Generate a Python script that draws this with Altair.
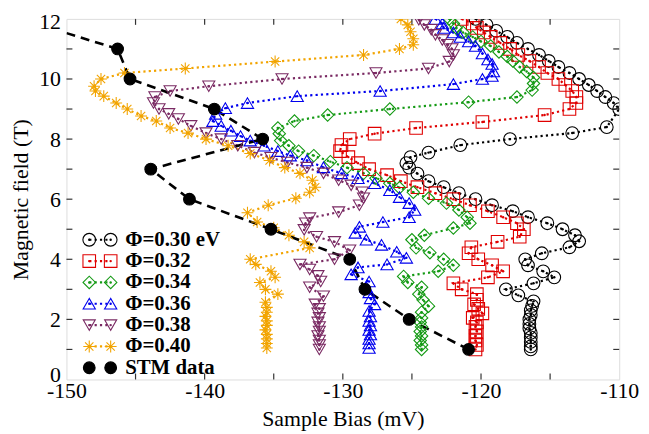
import altair as alt
import pandas as pd

# ---------------- data ----------------
series_names = ["Φ=0.30 eV", "Φ=0.32", "Φ=0.34", "Φ=0.36", "Φ=0.38", "Φ=0.40", "STM data"]
series_colors = ["#000000", "#e00000", "#149a14", "#0000ee", "#7a2a63", "#f2a400", "#000000"]

phi030_field = [12.0, 11.8, 11.6, 11.4, 11.2, 11.0, 10.8, 10.6, 10.4, 10.2, 10.0, 9.8, 9.6, 9.4, 9.2, 9.0,
                8.4, 8.2, 8.0, 7.8, 7.55, 7.4, 7.2, 7.05,
                6.85, 6.6, 6.4, 6.2, 6.0, 5.8, 5.6, 5.4, 5.2, 5.0, 4.8, 4.6,
                4.4, 4.2, 4.0, 3.8, 3.6, 3.4, 3.2, 3.0, 2.8,
                2.6, 2.45, 2.3, 2.15, 2.0, 1.85, 1.7, 1.55, 1.4, 1.25, 1.1, 1.0]
phi030_bias = [-120.4, -119.6, -118.9, -118.1, -117.4, -116.6, -115.8, -115.1, -114.4, -113.6, -112.9, -112.2, -111.6, -111.0, -110.4, -110.0,
               -110.9, -113.4, -117.9, -121.5, -123.8, -125.1, -125.4, -125.2,
               -124.6, -123.8, -122.7, -121.6, -120.4, -119.2, -117.7, -116.6, -115.2, -114.1, -113.2, -112.9,
               -113.6, -115.6, -116.8, -116.6, -115.5, -114.7, -116.2, -118.2, -117.3,
               -116.2, -116.3, -116.4, -116.4, -116.5, -116.5, -116.5, -116.4, -116.4, -116.4, -116.4, -116.4]

phi032_field = [12.0, 11.85, 11.7, 11.55, 11.4, 11.2, 11.0, 10.8, 10.6, 10.4, 10.2, 10.0, 9.8, 9.6, 9.4, 9.2, 9.0,
                8.8, 8.57, 8.37, 8.18, 8.0, 7.8, 7.6, 7.4,
                7.2, 7.0, 6.8, 6.6, 6.4, 6.2, 6.0, 5.8, 5.6, 5.4, 5.2, 5.0, 4.75,
                4.58, 4.4, 4.2, 4.0, 3.8, 3.6, 3.4, 3.2, 3.0,
                2.84, 2.65, 2.5, 2.35, 2.2, 2.05, 1.9, 1.75, 1.6, 1.45, 1.3, 1.15, 1.0]
phi032_bias = [-121.4, -120.6, -120.3, -119.8, -119.3, -118.6, -117.9, -117.3, -116.5, -115.8, -115.2, -114.4, -113.9, -113.4, -113.1, -113.1, -113.6,
               -115.4, -119.9, -124.7, -127.7, -129.5, -130.1, -130.2, -129.6,
               -128.9, -128.1, -126.8, -125.8, -124.6, -123.3, -122.0, -120.8, -119.5, -118.4, -117.4, -116.9, -117.2,
               -118.8, -120.7, -120.9, -120.2, -119.2, -118.4, -119.5, -122.0, -121.4,
               -120.3, -120.3, -120.5, -120.2, -119.9, -120.6, -120.3, -120.4, -120.3, -120.4, -120.4, -120.3, -120.4]

phi034_field = [12.0, 11.85, 11.7, 11.55, 11.4, 11.25, 11.1, 10.9, 10.75, 10.6, 10.4, 10.25, 10.05, 9.85, 9.63,
                9.4, 9.23, 9.0, 8.8, 8.6, 8.37, 8.18, 7.95,
                7.78, 7.6, 7.45, 7.25, 7.05, 6.86, 6.7, 6.53, 6.38, 6.23, 6.03, 5.87, 5.64, 5.4, 5.2,
                5.04, 4.8, 4.65, 4.38, 4.22, 4.0, 3.8, 3.6, 3.43, 3.23,
                3.07, 2.84, 2.65, 2.44, 2.24, 2.05, 1.9, 1.75, 1.6, 1.45, 1.3, 1.15, 1.0]
phi034_bias = [-122.3, -122.0, -121.8, -121.3, -120.6, -120.0, -119.3, -118.7, -118.1, -117.7, -117.2, -116.7, -116.2, -116.2, -116.3,
               -117.4, -120.9, -126.6, -131.1, -133.5, -134.7, -134.6, -134.5,
               -133.9, -133.2, -132.1, -130.9, -129.7, -128.5, -127.6, -126.6, -125.9, -124.9, -123.8, -122.5, -121.6, -121.0, -120.8,
               -122.0, -124.1, -125.0, -124.7, -123.7, -122.7, -122.0, -123.1, -125.6, -125.3,
               -124.3, -124.5, -124.2, -123.8, -124.3, -124.3, -124.4, -124.3, -124.4, -124.3, -124.4, -124.3, -124.3]

phi036_field = [12.0, 11.85, 11.7, 11.55, 11.4, 11.25, 11.1, 10.85, 10.65, 10.5, 10.25, 10.1,
                10.0, 9.83, 9.6, 9.43, 9.2, 9.03, 8.84, 8.6,
                8.44, 8.28, 8.1, 7.95, 7.78, 7.6, 7.45, 7.29, 7.06, 6.86, 6.7, 6.53, 6.3, 6.07, 5.87, 5.64, 5.4,
                5.24, 5.08, 4.88, 4.65, 4.48, 4.25, 4.05, 3.83, 3.73, 3.5,
                3.26, 3.07, 2.9, 2.7, 2.5, 2.28, 2.1, 1.95, 1.8, 1.65, 1.5, 1.35, 1.2, 1.05]
phi036_bias = [-123.3, -122.8, -122.7, -122.0, -121.5, -120.9, -120.4, -119.9, -119.5, -119.2, -119.1, -119.2,
               -119.9, -122.0, -127.3, -133.3, -136.9, -138.5, -139.2, -139.4,
               -138.8, -138.1, -137.4, -136.7, -135.7, -134.7, -133.8, -132.6, -131.4, -130.1, -128.9, -127.7, -126.6, -125.9, -125.2, -124.8, -125.2,
               -127.1, -128.8, -129.1, -128.3, -127.2, -126.1, -125.4, -126.8, -128.9, -129.4,
               -128.1, -128.3, -128.1, -128.0, -127.7, -128.1, -128.0, -128.1, -128.0, -128.1, -128.0, -128.1, -128.1, -128.1]

phi038_field = [11.97, 11.8, 11.64, 11.47, 11.3, 11.14, 11.0, 10.8, 10.58,
                10.35, 10.2, 10.0, 9.76, 9.6, 9.4, 9.2,
                9.0, 8.84, 8.67, 8.44, 8.2, 8.0, 7.78, 7.55, 7.38, 7.22, 7.05, 6.86, 6.63, 6.46, 6.23, 6.03, 5.8,
                5.57, 5.37, 5.2, 4.98, 4.75, 4.58, 4.3, 4.0, 3.83, 3.66, 3.45, 3.26, 3.07, 2.77, 2.5,
                2.35, 2.2, 2.05, 1.9, 1.75, 1.6, 1.45, 1.3, 1.15, 1.0]
phi038_bias = [-124.5, -124.1, -123.6, -123.3, -122.8, -122.4, -122.1, -122.0, -122.3,
               -123.8, -127.6, -134.4, -139.7, -142.5, -143.6, -143.7,
               -143.3, -142.6, -141.9, -141.0, -139.9, -138.8, -137.6, -136.4, -135.2, -134.0, -132.6, -131.4, -130.3, -129.4, -128.6, -128.5, -128.8,
               -130.3, -132.4, -132.7, -132.8, -131.9, -130.6, -129.5, -130.6, -133.1, -132.4, -131.8, -131.6, -132.4, -131.4, -132.0,
               -131.7, -131.8, -131.7, -131.8, -131.7, -131.7, -131.8, -131.7, -131.7, -131.7]

phi040_field = [12.0, 11.8, 11.57, 11.34, 11.14,
                11.0, 10.8, 10.58, 10.35, 10.2, 10.0, 9.76,
                9.6, 9.43, 9.2, 9.0, 8.77, 8.6, 8.37, 8.2, 8.0, 7.78, 7.52, 7.29, 7.05, 6.86, 6.63, 6.4, 6.23,
                6.03, 5.8, 5.55, 5.24, 5.05, 4.8, 4.58, 4.38,
                4.0, 3.83, 3.6, 3.4, 3.23, 3.0, 2.84, 2.57,
                2.4, 2.24, 2.1, 1.95, 1.8, 1.65, 1.5, 1.35, 1.2, 1.05]
phi040_bias = [-125.8, -125.3, -125.1, -124.9, -124.9,
               -125.9, -128.5, -134.9, -141.4, -145.8, -147.5, -148.0,
               -147.9, -147.3, -146.4, -145.6, -144.6, -143.5, -142.5, -141.2, -139.9, -138.3, -136.7, -135.3, -134.2, -133.1, -132.2, -132.0, -132.4,
               -133.4, -135.4, -136.9, -136.2, -135.0, -133.9, -132.8, -132.4,
               -136.7, -136.3, -135.2, -134.9, -136.0, -135.6, -134.7, -135.6,
               -135.5, -135.5, -135.6, -135.5, -135.5, -135.6, -135.5, -135.5, -135.5, -135.5]

stm_field = [1, 2, 3, 4, 5, 6, 7, 8, 9, 10, 11, 12]
stm_bias = [-120.9, -125.2, -128.4, -129.5, -135.2, -141.1, -143.9, -135.8, -139.3, -145.4, -146.3, -153.3]

x_major = [-140, -130, -120]
x_minor = [-145, -135, -125, -115]
y_major = [2, 4, 6, 8, 10]
y_minor = [1, 3, 5, 7, 9, 11]

# ---------------- assemble ----------------
rows = []
all_series = [
    (series_names[0], phi030_bias, phi030_field),
    (series_names[1], phi032_bias, phi032_field),
    (series_names[2], phi034_bias, phi034_field),
    (series_names[3], phi036_bias, phi036_field),
    (series_names[4], phi038_bias, phi038_field),
    (series_names[5], phi040_bias, phi040_field),
    (series_names[6], stm_bias, stm_field),
]
for name, bx, fy in all_series:
    for i, (b, f) in enumerate(zip(bx, fy)):
        rows.append({"series": name, "bias": b, "field": f, "idx": i})
df = pd.DataFrame(rows)
theory = df[df.series != "STM data"]
stm = df[df.series == "STM data"]

W, H = 558, 364
SERIF = "Liberation Serif"
asterisk = "M0,-1L0,1M-1,0L1,0M-0.7,-0.7L0.7,0.7M-0.7,0.7L0.7,-0.7"
shape_range = ["circle", "square", "diamond", "triangle-up", "triangle-down", asterisk, "circle"]
size_range = [165, 140, 140, 160, 160, 180, 290]
fill_range = ["transparent"] * 6 + ["black"]

xs = alt.Scale(domain=[-150, -110], nice=False, zero=False)
ys = alt.Scale(domain=[0, 12], nice=False, zero=False)

X = alt.X("bias:Q", scale=xs, axis=alt.Axis(
    values=[-150, -140, -130, -120, -110], labelExpr="datum.value + ''",
    ticks=False, domain=False, grid=False, labelFont=SERIF, labelFontSize=22,
    labelColor="black", labelPadding=1, labelFlush=False,
    title="Sample Bias (mV)", titleFont=SERIF,
    titleFontSize=22, titleFontWeight="normal", titleColor="black", titlePadding=7))
Y = alt.Y("field:Q", scale=ys, axis=alt.Axis(
    values=[0, 2, 4, 6, 8, 10, 12], labelExpr="datum.value + ''",
    ticks=False, domain=False, grid=False, labelFont=SERIF, labelFontSize=22,
    labelColor="black", labelPadding=6, labelFlush=True, labelFlushOffset=7,
    title="Magnetic field (T)", titleFont=SERIF,
    titleFontSize=22, titleFontWeight="normal", titleColor="black", titlePadding=6))

color_scale = alt.Scale(domain=series_names, range=series_colors)
stroke_enc = alt.Stroke("series:N", scale=alt.Scale(domain=series_names, range=series_colors), legend=None)
fill_enc = alt.Fill("series:N", scale=alt.Scale(domain=series_names, range=fill_range), legend=None)
shape_enc = alt.Shape("series:N", scale=alt.Scale(domain=series_names, range=shape_range), legend=None)
size_enc = alt.Size("series:N", scale=alt.Scale(domain=series_names, range=size_range), legend=None)

lines = alt.Chart(theory).mark_line(strokeDash=[2.2, 3.2], strokeWidth=2.2, clip=True).encode(
    x=X, y=Y,
    color=alt.Color("series:N", scale=color_scale, legend=None),
    detail="series:N", order="idx:Q")

stm_line = alt.Chart(stm).mark_line(strokeDash=[9, 6], strokeWidth=2.6, color="black", clip=True).encode(
    x="bias:Q", y="field:Q", order="idx:Q")

markers = alt.Chart(df).mark_point(opacity=1, strokeWidth=1.1, clip=True).encode(
    x="bias:Q", y="field:Q", stroke=stroke_enc, fill=fill_enc, shape=shape_enc, size=size_enc)

dots = alt.Chart(theory).mark_circle(size=6, opacity=1, clip=True).encode(
    x="bias:Q", y="field:Q",
    color=alt.Color("series:N", scale=color_scale, legend=None))

# ---------------- ticks (inward) ----------------
xt = pd.DataFrame({"v": x_major + x_minor})
yt = pd.DataFrame({"v": y_major + y_minor})
tick_style = dict(color="#333333", strokeWidth=1.2)
xb = alt.Chart(xt).mark_rule(**tick_style).encode(x=alt.X("v:Q", scale=xs), y=alt.value(H), y2=alt.value(H - 6))
xtp = alt.Chart(xt).mark_rule(**tick_style).encode(x=alt.X("v:Q", scale=xs), y=alt.value(0), y2=alt.value(6))
yl = alt.Chart(yt).mark_rule(**tick_style).encode(y=alt.Y("v:Q", scale=ys), x=alt.value(0), x2=alt.value(6))
yr = alt.Chart(yt).mark_rule(**tick_style).encode(y=alt.Y("v:Q", scale=ys), x=alt.value(W), x2=alt.value(W - 6))

# ---------------- legend (inside, lower left) ----------------
leg_top = 4.65      # field value of the first legend row
leg_step = 0.71     # row spacing in field units
leg_x1, leg_x2, leg_tx = -148.35, -146.8, -145.75
leg = pd.DataFrame({"series": series_names, "row": list(range(len(series_names)))})
leg["ly"] = leg_top - leg["row"] * leg_step
leg["lx1"] = leg_x1
leg["lx2"] = leg_x2
leg["tx"] = leg_tx
leg_pts = pd.concat([leg.assign(lx=leg_x1), leg.assign(lx=leg_x2)], ignore_index=True)
leg_theory = leg[leg.series != "STM data"]
leg_pts_theory = leg_pts[leg_pts.series != "STM data"]

leg_line = alt.Chart(leg_theory).mark_rule(strokeDash=[2.2, 3.2], strokeWidth=2.2).encode(
    x=alt.X("lx1:Q", scale=xs), x2="lx2:Q", y=alt.Y("ly:Q", scale=ys),
    color=alt.Color("series:N", scale=color_scale, legend=None))
leg_mark = alt.Chart(leg_pts).mark_point(opacity=1, strokeWidth=1.1).encode(
    x=alt.X("lx:Q", scale=xs), y=alt.Y("ly:Q", scale=ys),
    stroke=stroke_enc, fill=fill_enc, shape=shape_enc, size=size_enc)
leg_dot = alt.Chart(leg_pts_theory).mark_circle(size=6, opacity=1).encode(
    x=alt.X("lx:Q", scale=xs), y=alt.Y("ly:Q", scale=ys),
    color=alt.Color("series:N", scale=color_scale, legend=None))
leg_text = alt.Chart(leg).mark_text(align="left", baseline="middle", font=SERIF, fontSize=21,
                                    fontWeight="bold", color="black").encode(
    x=alt.X("tx:Q", scale=xs), y=alt.Y("ly:Q", scale=ys), text="series:N")

chart = alt.layer(lines, dots, stm_line, markers, xb, xtp, yl, yr,
                  leg_line, leg_mark, leg_dot, leg_text).properties(
    width=W, height=H,
    autosize=alt.AutoSizeParams(type="none"),
    padding={"left": 59, "top": 9, "right": 22, "bottom": 50},
).configure_view(stroke="#222222", strokeWidth=1.5).configure(background="white")

chart.save("out.html", embed_options={"renderer": "svg", "actions": False})
